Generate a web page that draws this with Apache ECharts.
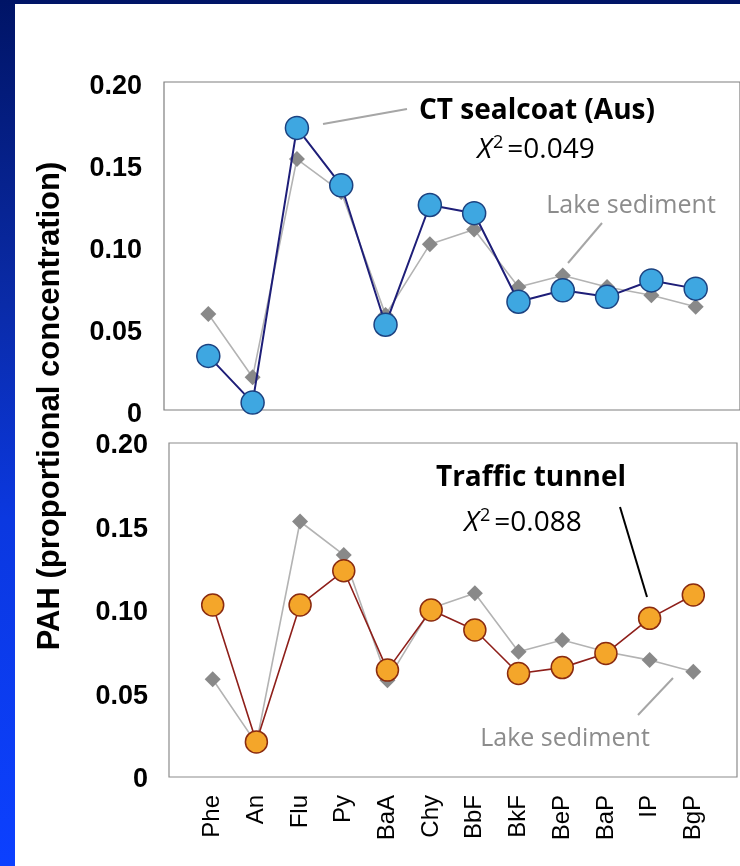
<!DOCTYPE html>
<html>
<head>
<meta charset="utf-8">
<script src="https://cdn.jsdelivr.net/npm/echarts@6/dist/echarts.min.js"></script>
<style>
    html, body { margin: 0; padding: 0; width: 740px; height: 866px; overflow: hidden; }
    body { background: linear-gradient(to bottom, #001466 0%, #0a2ba8 35%, #0b38e0 60%, #0c40ff 100%); position: relative; }
    #paper { position: absolute; left: 15px; top: 4px; right: 0; bottom: 0; background: #ffffff; }
    #chart { position: absolute; left: 0; top: 0; width: 740px; height: 866px; }
</style>
</head>
<body>
<div id="paper"></div>
<div id="chart"></div>
<script>
    // PAH profiles, proportional concentration
    const categories = ['Phe', 'An', 'Flu', 'Py', 'BaA', 'Chy', 'BbF', 'BkF', 'BeP', 'BaP', 'IP', 'BgP'];
    const lakeSediment = [0.0585, 0.020, 0.153, 0.133, 0.058, 0.101, 0.110, 0.075, 0.082, 0.075, 0.070, 0.063];
    const ctSealcoat = [0.033, 0.0045, 0.172, 0.137, 0.052, 0.125, 0.120, 0.066, 0.073, 0.069, 0.079, 0.074];
    const trafficTunnel = [0.103, 0.021, 0.103, 0.1235, 0.064, 0.100, 0.088, 0.062, 0.0655, 0.074, 0.095, 0.109];
    const yTicks = [0, 0.05, 0.10, 0.15, 0.20];

    const toPairs = arr => arr.map((v, i) => [i, v]);

    let myChart = echarts.init(document.getElementById('chart'), null, { renderer: 'canvas' });

    const annoFont = 'Open Sans';

    function xAxisOf(gridIndex, showLabels) {
        return {
            type: 'value', gridIndex: gridIndex, min: -1, max: 12, interval: 1,
            axisLine: { show: false }, axisTick: { show: false }, splitLine: { show: false },
            axisLabel: {
                show: showLabels, rotate: 90, margin: 18, color: '#000',
                fontSize: 24, fontFamily: 'Liberation Sans, Arial',
                formatter: v => categories[v] || ''
            }
        };
    }

    // labels sit a few px below their ticks in the reference
    function yAxisOf(gridIndex, margin, drop) {
        return {
            type: 'value', gridIndex: gridIndex, min: 0, max: 0.2, interval: 0.05,
            axisLine: { show: false }, axisTick: { show: false }, splitLine: { show: false },
            axisLabel: {
                margin: margin, verticalAlign: 'top', lineHeight: drop * 2,
                color: '#000', fontSize: 27, fontWeight: 'bold', fontFamily: 'Liberation Sans, Arial',
                formatter: v => {
                    let hit = yTicks.find(t => Math.abs(t - v) < 1e-9);
                    if (hit === undefined) return '';
                    return hit === 0 ? '0' : hit.toFixed(2);
                }
            }
        };
    }

    function lakeSeries(idx) {
        return {
            name: 'Lake sediment', type: 'line', xAxisIndex: idx, yAxisIndex: idx,
            data: toPairs(lakeSediment), symbol: 'diamond', symbolSize: 16,
            itemStyle: { color: '#898989' },
            lineStyle: { color: '#b3b3b3', width: 1.6 },
            clip: false, z: 2
        };
    }

    function chiText(val) {
        return {
            text: '{i|X}{s|2}{n|=' + val + '}', align: 'center', verticalAlign: 'middle', fill: '#000',
            rich: {
                i: { fontSize: 28, lineHeight: 32, fontStyle: 'italic', fontFamily: annoFont, fill: '#000' },
                s: { fontSize: 18, lineHeight: 18, verticalAlign: 'top', fontFamily: annoFont, padding: [0, 4, 0, 1], fill: '#000' },
                n: { fontSize: 28, lineHeight: 32, fontFamily: annoFont, fill: '#000' }
            }
        };
    }

    let option = {
        animation: false,
        grid: [
            { left: 164, top: 82, right: 0, height: 328, show: true, borderColor: '#7f7f7f', borderWidth: 1.2, backgroundColor: 'transparent' },
            { left: 169, top: 443, width: 568, height: 334, show: true, borderColor: '#8c8c8c', borderWidth: 1.2, backgroundColor: 'transparent' }
        ],
        xAxis: [xAxisOf(0, false), xAxisOf(1, true)],
        yAxis: [yAxisOf(0, 22, 5), yAxisOf(1, 21, 3)],
        series: [
            lakeSeries(0),
            {
                name: 'CT sealcoat (Aus)', type: 'line', xAxisIndex: 0, yAxisIndex: 0,
                data: toPairs(ctSealcoat), symbol: 'circle', symbolSize: 23,
                itemStyle: { color: '#3ea7e1', borderColor: '#1c4280', borderWidth: 1.5 },
                lineStyle: { color: '#1e1e78', width: 2 },
                clip: false, z: 3
            },
            lakeSeries(1),
            {
                name: 'Traffic tunnel', type: 'line', xAxisIndex: 1, yAxisIndex: 1,
                data: toPairs(trafficTunnel), symbol: 'circle', symbolSize: 22,
                itemStyle: { color: '#f4a62a', borderColor: '#8a2b10', borderWidth: 1.5 },
                lineStyle: { color: '#8e1f1a', width: 1.6 },
                clip: false, z: 3
            }
        ],
        graphic: [
            {
                type: 'text', x: 50, y: 406, rotation: Math.PI / 2,
                style: { text: 'PAH (proportional concentration)', fontSize: 31, fontWeight: 'bold', fontFamily: 'Liberation Sans, Arial', fill: '#000', align: 'center', verticalAlign: 'middle' }
            },
            // top panel annotations
            { type: 'line', shape: { x1: 323, y1: 124, x2: 407, y2: 109 }, style: { stroke: '#a6a6a6', lineWidth: 2 } },
            {
                type: 'text', x: 537, y: 111,
                style: { text: 'CT sealcoat (Aus)', fontSize: 28, fontWeight: 'bold', fontFamily: annoFont, fill: '#000', align: 'center', verticalAlign: 'middle' }
            },
            { type: 'text', x: 536, y: 150, style: chiText('0.049') },
            {
                type: 'text', x: 631, y: 206,
                style: { text: 'Lake sediment', fontSize: 25, fontFamily: annoFont, fill: '#8c8c8c', align: 'center', verticalAlign: 'middle' }
            },
            { type: 'line', shape: { x1: 602, y1: 223, x2: 568, y2: 263 }, style: { stroke: '#a6a6a6', lineWidth: 2 } },
            // bottom panel annotations
            {
                type: 'text', x: 531, y: 478,
                style: { text: 'Traffic tunnel', fontSize: 28, fontWeight: 'bold', fontFamily: annoFont, fill: '#000', align: 'center', verticalAlign: 'middle' }
            },
            { type: 'text', x: 523, y: 523, style: chiText('0.088') },
            { type: 'line', shape: { x1: 620, y1: 507, x2: 647, y2: 597 }, style: { stroke: '#000', lineWidth: 2 } },
            { type: 'line', shape: { x1: 673, y1: 678, x2: 638, y2: 715 }, style: { stroke: '#a6a6a6', lineWidth: 2 } },
            {
                type: 'text', x: 565, y: 739,
                style: { text: 'Lake sediment', fontSize: 25, fontFamily: annoFont, fill: '#8c8c8c', align: 'center', verticalAlign: 'middle' }
            }
        ]
    };

    myChart.setOption(option, true);
</script>
</body>
</html>
